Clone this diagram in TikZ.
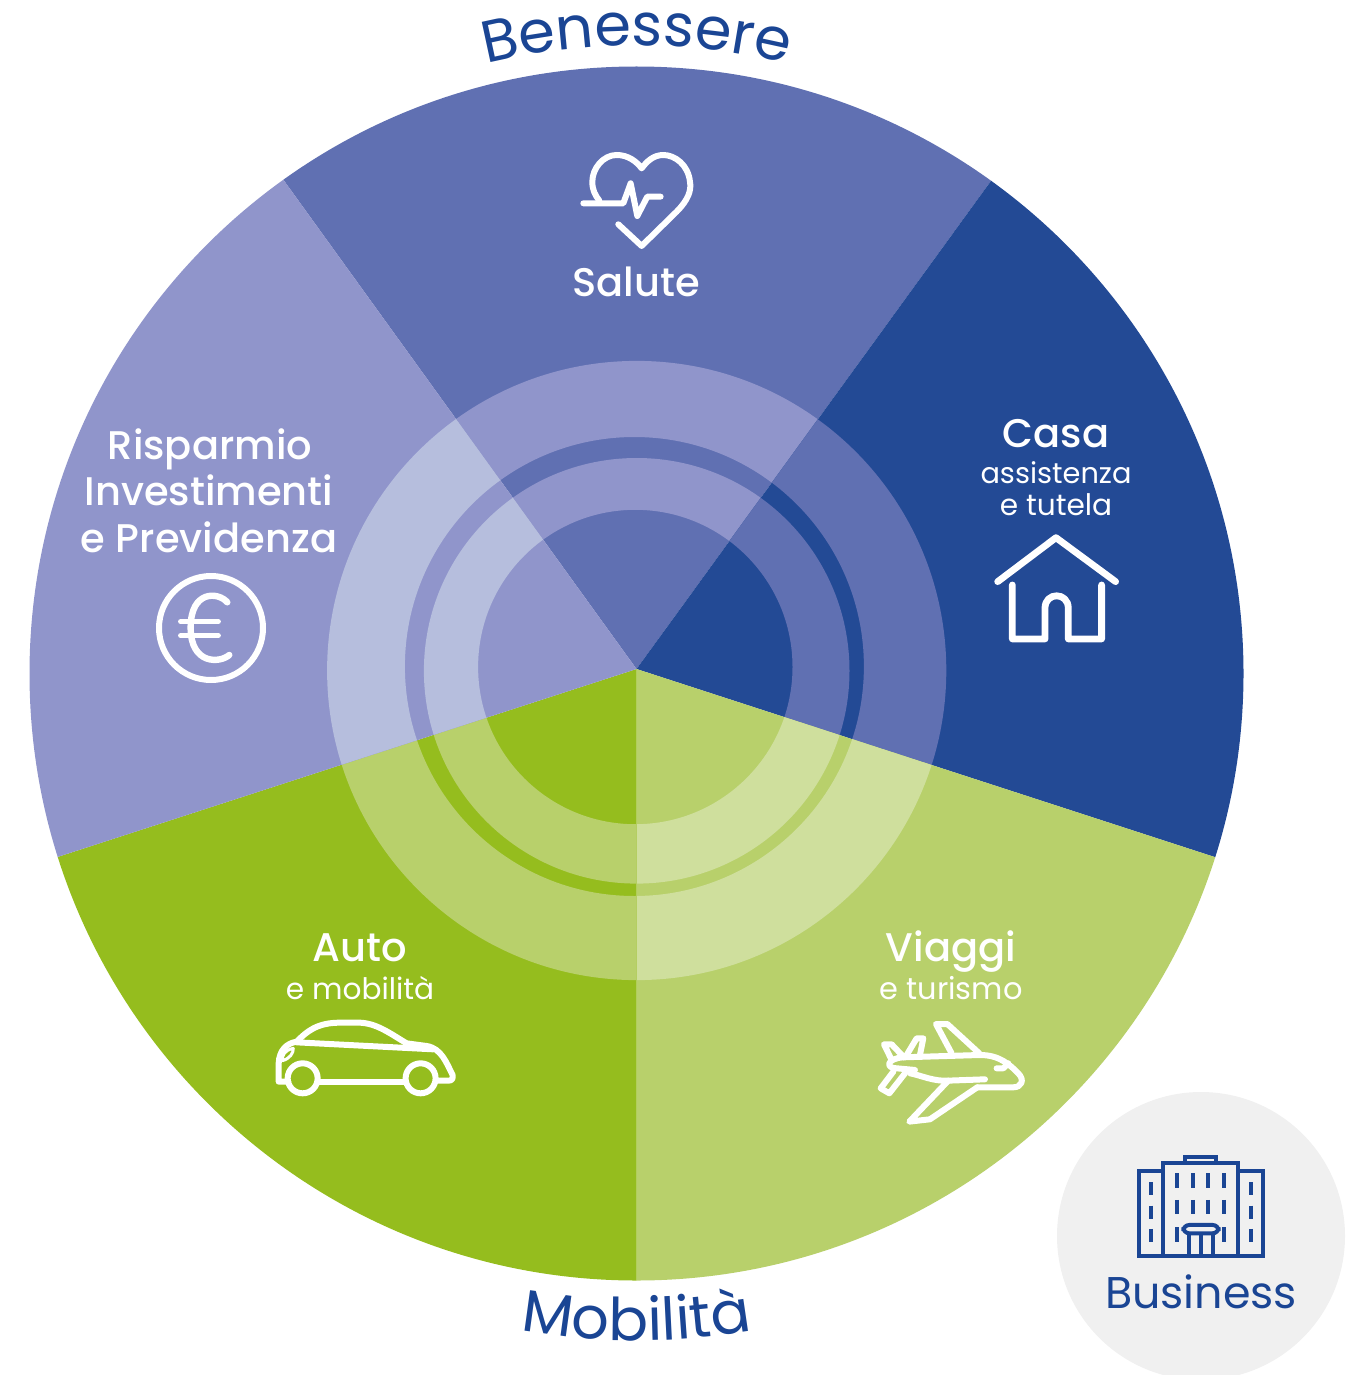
\documentclass[tikz,border=0pt]{standalone}
\usepackage{fontspec}
\setmainfont{Poppins}
\newfontfamily\semib{Poppins SemiBold}
\newfontfamily\med{Poppins Medium}
\usetikzlibrary{decorations.text}
\definecolor{topblue}{HTML}{6070B2}
\definecolor{darkblue}{HTML}{234A95}
\definecolor{lilac}{HTML}{9095CB}
\definecolor{dkgreen}{HTML}{95BD1E}
\definecolor{ltgreen}{HTML}{B8D06B}
\definecolor{paleblue}{HTML}{B6BEDD}
\definecolor{palegreen}{HTML}{CFDF9D}
\definecolor{titleblue}{HTML}{1A4594}
\definecolor{bizgrey}{HTML}{F0F0F0}
\tikzset{
  head/.style={text=white,font=\med\fontsize{20}{23}\selectfont,inner sep=0pt,anchor=base},
  sub/.style={text=white,font=\fontsize{14.8}{17}\selectfont,inner sep=0pt,anchor=base},
  icon/.style={draw=white,line width=3pt,line cap=round,line join=round},
  bld/.style={draw=titleblue,line width=2pt,line join=miter},
  win/.style={draw=titleblue,line width=2pt},
}
% rings of one wedge: #1 colour of the wedge, #2 colour of its rings, #3 the wedge polygon
\newcommand{\wedgepart}[3]{%
  \begin{scope}
    \clip #3;
    \fill[#1] (636.5,673.5) circle [radius=607];
    \fill[#2,even odd rule] (636.7,670.5) circle [radius=309.6] (634.4,666.5) circle [radius=229.5];
    \fill[#2,even odd rule] (636.7,670.8) circle [radius=212.8] (635.3,667) circle [radius=157.2];
  \end{scope}}
\begin{document}
\begin{tikzpicture}[x=0.5pt,y=-0.5pt]
\useasboundingbox (0,0) rectangle (1360,1375);
% wedges with their rings
\wedgepart{topblue}{lilac}{(636.5,669) -- (-491,-893) -- (1768,-889) -- cycle}
\wedgepart{darkblue}{topblue}{(636.5,669) -- (1768,-889) -- (2500,1275) -- cycle}
\wedgepart{ltgreen}{palegreen}{(636.5,669) -- (2500,1275) -- (636.5,2000) -- cycle}
\wedgepart{dkgreen}{ltgreen}{(636.5,669) -- (636.5,2000) -- (-1230,1275) -- cycle}
\wedgepart{lilac}{paleblue}{(636.5,669) -- (-1230,1275) -- (-491,-893) -- cycle}
% business disc
\begin{scope}
\clip (0,0) rectangle (1360,1375);
\fill[bizgrey] (1201,1236) circle [radius=144];
\end{scope}
% titles
\path[decorate,decoration={text along path,text align=center,
  text={|\fontsize{29.5}{29}\selectfont\color{titleblue}|Benessere}}]
  (636.5,673.5) ++(-118:628) arc[start angle=-118,end angle=-62,radius=628];
\path[decorate,decoration={text along path,text align=center,
  text={|\fontsize{29.5}{29}\selectfont\color{titleblue}|Mobilità}}]
  (636.5,673.5) ++(118:667) arc[start angle=118,end angle=62,radius=667];
% labels
\node[head] (salute) at (636,296) {Salute};
\node[head] (casa) at (1056,447) {Casa};
\node[sub,font=\fontsize{14.4}{17}\selectfont] (assist) at (1056,483) {assistenza};
\node[sub] (tutela) at (1056,515) {e tutela};
\node[head] (risp) at (210,459) {Risparmio};
\node[head] (inv) at (209,505) {Investimenti};
\node[head] (prev) at (209,552) {e Previdenza};
\node[head] (auto) at (360,961) {Auto};
\node[sub] (mob) at (360,999) {e mobilità};
\node[head] (viag) at (951,961) {Viaggi};
\node[sub,font=\fontsize{15.2}{17}\selectfont] (tur) at (951,999) {e turismo};
\node[inner sep=0pt,anchor=base,text=titleblue,font=\fontsize{22.2}{26}\selectfont] (biz) at (1201,1308) {Business};
% heart
\begin{scope}[shift={(560,140)},x=0.1666pt,y=-0.1666pt]
\draw[icon] (175,253) -- (245,318) -- (350,215) .. controls (385,180) and (395,150) .. (390,125)
  .. controls (385,75) and (345,45) .. (310,45) .. controls (280,45) and (260,65) .. (245,85)
  .. controls (230,65) and (205,45) .. (170,45) .. controls (130,45) and (97,85) .. (97,125)
  .. controls (97,150) and (105,165) .. (118,182);
\draw[icon] (70,190) -- (190,190) -- (212,130) -- (232,228) -- (262,170) -- (302,170);
\end{scope}
% house
\begin{scope}[shift={(985,525)},x=0.1666pt,y=-0.1666pt]
\draw[icon,line width=3.4pt] (38,170) -- (213,38) -- (392,170);
\draw[icon,line width=3.4pt] (82,180) -- (82,342) -- (180,342) -- (180,250) .. controls (180,200) and (250,200) .. (250,250) -- (250,342) -- (350,342) -- (350,180);
\end{scope}
% euro
\draw[icon] (211,628) circle [radius=52];
\begin{scope}[shift={(150,565)},x=0.1666pt,y=-0.1666pt]
\draw[icon,line width=3.2pt] (232,112) .. controls (205,80) and (122,75) .. (122,188) .. controls (122,300) and (210,295) .. (238,270);
\draw[icon,line width=2.6pt] (92,170) -- (205,170);
\draw[icon,line width=2.6pt] (92,212) -- (205,212);
\end{scope}
% plane
\begin{scope}[shift={(860,1010)},x=0.1666pt,y=-0.1666pt]
\draw[icon] (130,142) -- (360,135) .. controls (420,135) and (450,165) .. (475,190) .. controls (495,210) and (485,232) .. (460,232) -- (352,232);
\draw[icon] (375,208) -- (265,212) -- (148,335) -- (210,328) -- (352,232);
\draw[icon] (265,212) .. controls (220,215) and (180,195) .. (150,190);
\draw[icon] (130,142) .. controls (80,145) and (75,175) .. (110,175) -- (165,180);
\draw[icon] (275,130) -- (228,42) -- (262,42) -- (358,130);
\draw[icon] (140,135) -- (170,85) -- (190,85) -- (180,135);
\draw[icon] (130,140) -- (95,103) -- (72,103) -- (95,150);
\draw[icon] (100,185) -- (62,235) -- (88,250) -- (135,190);
\draw[icon] (410,175) -- (430,175) -- (445,160);
\end{scope}
% car
\begin{scope}[shift={(260,1010)},x=0.1666pt,y=-0.1666pt]
\draw[icon] (85,215) -- (56,215) -- (56,160) .. controls (58,120) and (80,100) .. (110,95)
  .. controls (140,65) and (170,38) .. (240,38) -- (300,38) .. controls (350,40) and (390,70) .. (440,100)
  -- (500,108) .. controls (545,115) and (560,160) .. (578,195) .. controls (580,208) and (575,212) .. (565,212) -- (530,212);
\draw[icon] (175,215) -- (435,215);
\draw[icon] (110,97) -- (520,118);
\draw[icon] (128,205) circle [radius=45];
\draw[icon] (482,205) circle [radius=45];
\draw[icon,line width=1.5pt] (100,115) .. controls (75,120) and (65,135) .. (68,152) .. controls (90,145) and (100,130) .. (100,115);
\end{scope}
% building
\begin{scope}[shift={(1120,1145)},x=0.1666pt,y=-0.1666pt]
\draw[bld] (57,78) rectangle (130,332);
\draw[bld] (355,78) rectangle (428,332);
\draw[bld] (130,55) rectangle (355,332);
\draw[bld] (195,37) rectangle (288,55);
\foreach \xx in {94,392}
  \foreach \ya/\yb in {112/150,182/222,252/292}
    \draw[win] (\xx,\ya) -- (\xx,\yb);
\foreach \xx in {171,218,264,312}
  \foreach \ya/\yb in {85/128,165/207}
    \draw[win] (\xx,\ya) -- (\xx,\yb);
\foreach \xx in {171,312}
  \draw[win] (\xx,247) -- (\xx,292);
\draw[bld,fill=bizgrey,rounded corners=3pt] (190,240) rectangle (296,265);
\foreach \xx in {207,243,280}
  \draw[bld] (\xx,265) -- (\xx,330);
\end{scope}
\end{tikzpicture}
\end{document}
